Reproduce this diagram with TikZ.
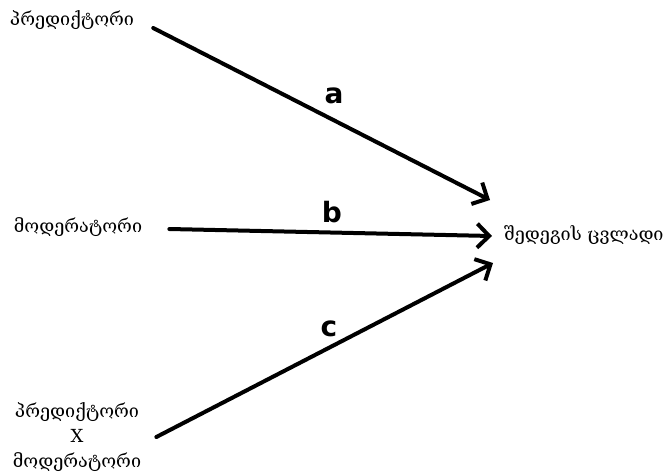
\documentclass[tikz,border=0pt]{standalone}
\usepackage{fontspec}
\newfontfamily\geo{DejaVu Serif}
\newfontfamily\lbl{DejaVu Sans}
\usetikzlibrary{arrows.meta}
\begin{document}
\begin{tikzpicture}[x=1pt,y=-1pt,
  txt/.style={font=\geo\fontsize{18}{25}\selectfont, inner sep=0pt, align=center},
  arr/.style={line width=4pt, line cap=round, -{Straight Barb[length=12pt,width=24pt,line width=4pt]}},
  lab/.style={font=\lbl\bfseries\fontsize{28}{28}\selectfont, inner sep=0pt}]
\useasboundingbox (0,0) rectangle (664,475);
\fill[white] (0,0) rectangle (664,475);
\node[txt] (p) at (72,20) {პრედიქტორი};
\node[txt] (m) at (78,227) {მოდერატორი};
\node[txt] (pm) at (77,437) {პრედიქტორი\\X\\მოდერატორი};
\node[txt, anchor=west] (out) at (504,235) {შედეგის ცვლადი};
\draw[arr] ([shift={(19,8)}]p.east) -- ([shift={(-14,-35)}]out.west);
\draw[arr] ([shift={(27,2)}]m.east) -- ([shift={(-12,1)}]out.west);
\draw[arr] ([shift={(15,0)}]pm.east) -- ([shift={(-11,28)}]out.west);
\node[lab] (la) at (334,96) {a};
\node[lab] (lb) at (332,212) {b};
\node[lab] (lc) at (329,329) {c};
\end{tikzpicture}
\end{document}
